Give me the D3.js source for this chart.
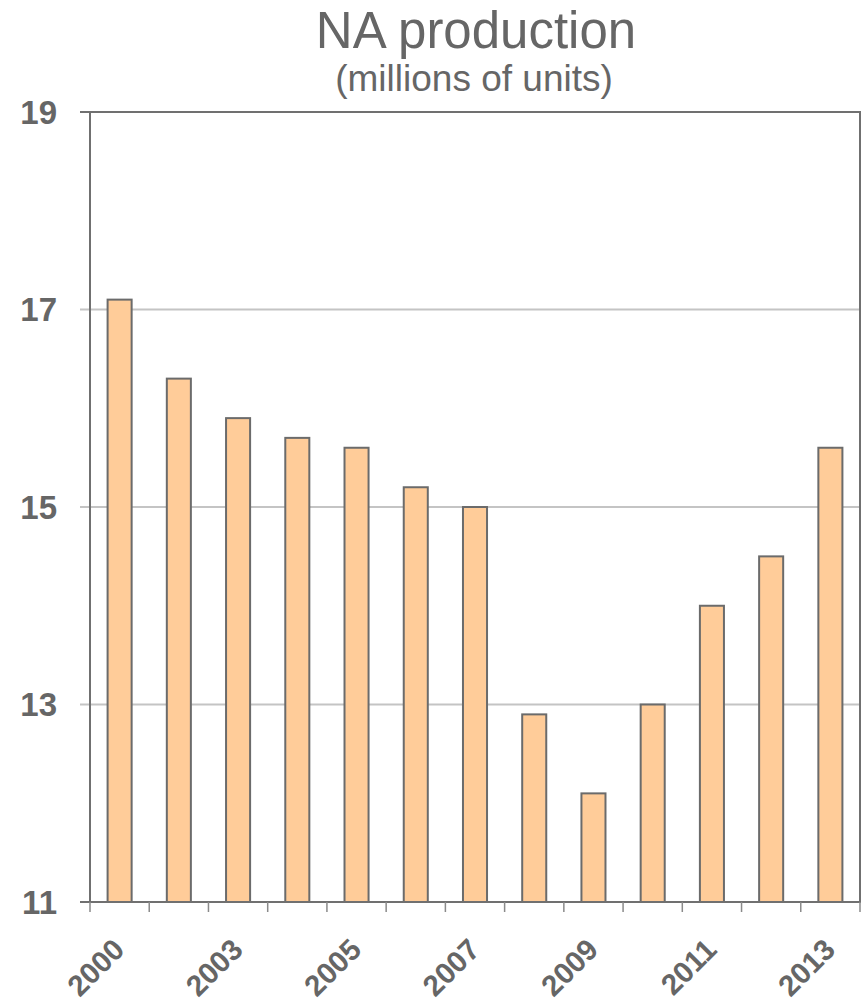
<!DOCTYPE html>
<html>
<head>
<meta charset="utf-8">
<script src="https://cdn.jsdelivr.net/npm/d3@7"></script>
<style>
  html, body { margin: 0; padding: 0; background: #fff; }
  svg { display: block; font-family: "Liberation Sans", Arial, sans-serif; }
</style>
</head>
<body>
<script>
const categories = ["2000","2002","2003","2004","2005","2006","2007","2008","2009","2010","2011","2012","2013"];
const values = [17.1, 16.3, 15.9, 15.7, 15.6, 15.2, 15.0, 12.9, 12.1, 13.0, 14.0, 14.5, 15.6];
const shownLabels = ["2000","2003","2005","2007","2009","2011","2013"];
const yTicks = [11, 13, 15, 17, 19];
const gridValues = [13, 15, 17];
const title = "NA production";
const subtitle = "(millions of units)";

(function () {
const W = 863, H = 1003;
const pL = 90, pR = 860, pT = 112, pB = 902;
const textColor = "#666666", frameColor = "#707070", gridColor = "#c4c4c4";

const svg = d3.select("body").append("svg").attr("width", W).attr("height", H);

const x = d3.scaleBand().domain(categories).range([pL, pR]).padding(0);
const y = d3.scaleLinear().domain([11, 19]).range([pB, pT]);

// title
svg.append("text").attr("x", 476).attr("y", 48).attr("text-anchor", "middle")
  .attr("font-size", 51).attr("fill", textColor).text(title);
svg.append("text").attr("x", 474).attr("y", 91).attr("text-anchor", "middle")
  .attr("font-size", 37).attr("fill", textColor).text(subtitle);

// gridlines
svg.selectAll("line.grid").data(gridValues).join("line").attr("class", "grid")
  .attr("x1", pL - 10).attr("x2", pR)
  .attr("y1", d => y(d)).attr("y2", d => y(d))
  .attr("stroke", gridColor).attr("stroke-width", 2);

// y ticks at ends
svg.selectAll("line.ytick").data([11, 19]).join("line").attr("class", "ytick")
  .attr("x1", pL - 10).attr("x2", pL)
  .attr("y1", d => y(d)).attr("y2", d => y(d))
  .attr("stroke", frameColor).attr("stroke-width", 2);

// y labels
svg.selectAll("text.ylab").data(yTicks).join("text").attr("class", "ylab")
  .attr("x", 57).attr("y", d => y(d)).attr("dy", "0.35em")
  .attr("text-anchor", "end").attr("font-size", 33).attr("font-weight", "bold")
  .attr("fill", textColor).text(d => d);

// bars
const bw = x.bandwidth() * 0.406;
svg.selectAll("rect.bar").data(values).join("rect").attr("class", "bar")
  .attr("x", (d, i) => x(categories[i]) + x.bandwidth() / 2 - bw / 2)
  .attr("width", bw)
  .attr("y", d => y(d))
  .attr("height", d => y(11) - y(d))
  .attr("fill", "#ffcc99").attr("stroke", "#6b6b6b").attr("stroke-width", 2);

// frame
svg.append("rect").attr("x", pL).attr("y", pT)
  .attr("width", pR - pL).attr("height", pB - pT)
  .attr("fill", "none").attr("stroke", frameColor).attr("stroke-width", 2);

// x ticks at band boundaries
const boundaries = categories.map(c => x(c)).concat([pR]);
svg.selectAll("line.xtick").data(boundaries).join("line").attr("class", "xtick")
  .attr("x1", d => d).attr("x2", d => d)
  .attr("y1", pB).attr("y2", pB + 10)
  .attr("stroke", "#8a8a8a").attr("stroke-width", 1.5);

// x labels
svg.selectAll("text.xlab").data(categories.filter(c => shownLabels.includes(c))).join("text")
  .attr("class", "xlab")
  .attr("transform", d => `translate(${x(d) + x.bandwidth() / 2 + 6.5},951.5) rotate(-45)`)
  .attr("text-anchor", "end").attr("font-size", 29.5).attr("font-weight", "bold")
  .attr("fill", textColor).text(d => d);
})();
</script>
</body>
</html>
